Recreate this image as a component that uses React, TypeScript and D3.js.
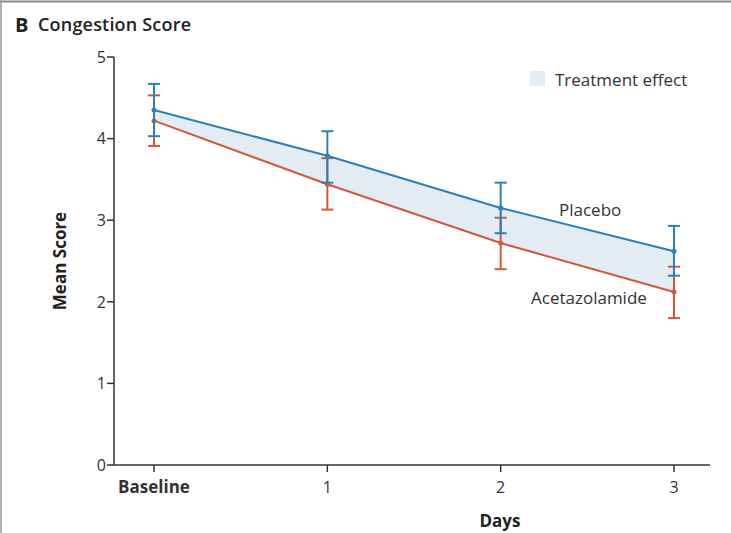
import React from "react";
import * as d3 from "d3";

// time points
const TIMEPOINTS = ["Baseline", "1", "2", "3"];
// mean score + 95% CI bounds
const PLACEBO_MEAN = [4.35, 3.79, 3.15, 2.62];
const PLACEBO_LO = [4.03, 3.46, 2.84, 2.32];
const PLACEBO_HI = [4.67, 4.09, 3.46, 2.93];
const ACET_MEAN = [4.22, 3.44, 2.72, 2.12];
const ACET_LO = [3.91, 3.13, 2.4, 1.8];
const ACET_HI = [4.53, 3.76, 3.03, 2.43];
const Y_TICKS = [0, 1, 2, 3, 4, 5];

const W = 731,
  H = 533;
const margin = { left: 114, top: 57, right: 26, bottom: 68 };
const BLUE = "#2b7fc1";
const RED = "#d2583a";
const FILL = "#e2ecf2";
const TEXT = "#333";
const FONT = "'Open Sans', 'Noto Sans', sans-serif";

export default function App() {
  const x = d3
    .scalePoint<string>()
    .domain(TIMEPOINTS)
    .range([154, 674]);
  const y = d3
    .scaleLinear()
    .domain([0, 5])
    .range([H - margin.bottom, margin.top]);

  const line = d3
    .line<number>()
    .x((_, i) => x(TIMEPOINTS[i])!)
    .y(d => y(d));

  const band = d3
    .area<number>()
    .x((_, i) => x(TIMEPOINTS[i])!)
    .y0((_, i) => y(ACET_MEAN[i]))
    .y1(d => y(d));

  const series = [
    { mean: ACET_MEAN, lo: ACET_LO, hi: ACET_HI, color: RED },
    { mean: PLACEBO_MEAN, lo: PLACEBO_LO, hi: PLACEBO_HI, color: BLUE }
  ];

  const x0 = margin.left;
  const xEnd = W - margin.right;
  const yBase = y(0);

  return (
    <svg
      width={W}
      height={H}
      style={{ position: "absolute", left: 0, top: 0, background: "#fff" }}
      fontFamily={FONT}
    >
      {/* frame */}
      <line x1={0} x2={W} y1={1.5} y2={1.5} stroke="#8a8a8a" strokeWidth={2} />
      <line x1={1} x2={1} y1={0} y2={H} stroke="#9a9a9a" strokeWidth={1.5} />

      {/* title */}
      <text x={15} y={32} fontSize={20} fontWeight={700} fill="#222">
        B
      </text>
      <text x={38} y={31} fontSize={18} fontWeight={600} fill="#222" textLength={153}>
        Congestion Score
      </text>

      {/* treatment effect band */}
      <path d={band(PLACEBO_MEAN) || ""} fill={FILL} />

      {/* y axis */}
      <line x1={x0} x2={x0} y1={y(5)} y2={yBase} stroke={TEXT} strokeWidth={1.5} />
      {Y_TICKS.map(t => (
        <g key={t} transform={`translate(${x0},${y(t)})`}>
          <line x1={-7} x2={0} stroke={TEXT} strokeWidth={1.5} />
          <text x={-8} dy="0.36em" textAnchor="end" fontSize={16} fill={TEXT}>
            {t}
          </text>
        </g>
      ))}
      <text
        transform={`translate(66,${(y(5) + yBase) / 2}) rotate(-90)`}
        textAnchor="middle"
        fontSize={17}
        fontWeight={700}
        fill="#222"
      >
        Mean Score
      </text>

      {/* x axis */}
      <line x1={x0} x2={xEnd + 5} y1={yBase} y2={yBase} stroke={TEXT} strokeWidth={1.5} />
      {TIMEPOINTS.map((t, i) => (
        <g key={t} transform={`translate(${x(t)},${yBase})`}>
          <line y1={0} y2={7} stroke={TEXT} strokeWidth={1.5} />
          <text
            y={28}
            textAnchor="middle"
            fontSize={i === 0 ? 17 : 16}
            fontWeight={i === 0 ? 700 : 400}
            fill={TEXT}
          >
            {t}
          </text>
        </g>
      ))}
      <text x={500} y={527} textAnchor="middle" fontSize={17} fontWeight={700} fill="#222">
        Days
      </text>

      {/* series */}
      {series.map((s, k) => (
        <g key={k}>
          <path d={line(s.mean) || ""} fill="none" stroke={s.color} strokeWidth={2} />
          {s.mean.map((m, i) => {
            const cx = x(TIMEPOINTS[i])!;
            return (
              <g key={i} stroke={s.color} strokeWidth={2}>
                <line x1={cx} x2={cx} y1={y(s.hi[i])} y2={y(s.lo[i])} />
                <line x1={cx - 6} x2={cx + 6} y1={y(s.hi[i])} y2={y(s.hi[i])} />
                <line x1={cx - 6} x2={cx + 6} y1={y(s.lo[i])} y2={y(s.lo[i])} />
                <circle cx={cx} cy={y(m)} r={2.5} fill={s.color} stroke="none" />
              </g>
            );
          })}
        </g>
      ))}

      {/* labels */}
      <text x={559} y={216} fontSize={17} fill={TEXT}>
        Placebo
      </text>
      <text x={531} y={304} fontSize={17} fill={TEXT}>
        Acetazolamide
      </text>

      {/* legend */}
      <rect x={530} y={71} width={15} height={15} fill={FILL} />
      <text x={555} y={86} fontSize={17} fill={TEXT}>
        Treatment effect
      </text>
    </svg>
  );
}
